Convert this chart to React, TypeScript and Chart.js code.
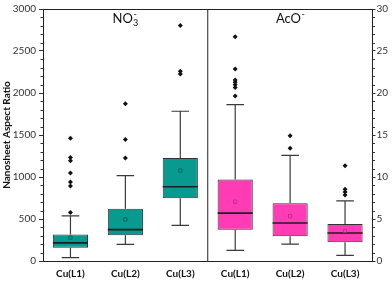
import React, { useEffect, useRef } from 'react';
import { Chart, registerables } from 'chart.js';

Chart.register(...registerables);

const categories = ['Cu(L1)', 'Cu(L2)', 'Cu(L3)', 'Cu(L1)', 'Cu(L2)', 'Cu(L3)'];
const panelTitles = ['NO', 'AcO'];
const q1 = [158, 307, 747, 373, 295, 224];
const q3 = [314, 621, 1225, 970, 688, 440];
const medians = [216, 373, 884, 570, 452, 334];
const means = [279, 495, 1077, 707, 535, 358];
const whiskerLow = [40, 197, 424, 126, 200, 67];
const whiskerHigh = [538, 1017, 1783, 1861, 1257, 715];
const outliersL1 = [1461, 1233, 1194, 1048, 939, 892, 577];
const outliersL2 = [1873, 1445, 1225];
const outliersL3 = [2803, 2258, 2226];
const outliersA1 = [2670, 2285, 2156, 2128, 2097, 2066, 1963];
const outliersA2 = [1492, 1343];
const outliersA3 = [1135, 853, 821, 786];
const leftTicks = [0, 3000, 500];
const rightTicks = [0, 30, 5];

const TEAL = '#08998f';
const PINK = '#ff3cb6';
const FONT = 'Lato, "Open Sans", sans-serif';

export default function App() {
  const ref = useRef<HTMLCanvasElement>(null);

  useEffect(() => {
    if (!ref.current) return;
    const keys = categories.map((c, i) => `${c}#${i}`);
    const outlierLists = [outliersL1, outliersL2, outliersL3, outliersA1, outliersA2, outliersA3];
    const outlierData: { x: string; y: number }[] = [];
    outlierLists.forEach((list, i) => list.forEach((v) => outlierData.push({ x: keys[i], y: v })));
    const fills = categories.map((_, i) => (i < 3 ? TEAL : PINK));
    const meanColors = categories.map((_, i) => (i < 3 ? '#0b5f5a' : '#a8327f'));

    const extras = {
      id: 'boxExtras',
      afterDatasetDraw(chart: any, args: any) {
        if (args.index !== 0) return;
        const { ctx, scales } = chart;
        const x = scales.x;
        const y = scales.y;
        const meta = chart.getDatasetMeta(0);
        ctx.save();
        categories.forEach((_, i) => {
          const cx = x.getPixelForValue(i);
          const bw = meta.data[i].width;
          const capW = bw / 2;
          ctx.strokeStyle = '#3a3a3a';
          ctx.lineWidth = 1.2;
          ctx.beginPath();
          ctx.moveTo(cx, y.getPixelForValue(q3[i]));
          ctx.lineTo(cx, y.getPixelForValue(whiskerHigh[i]));
          ctx.moveTo(cx - capW / 2, y.getPixelForValue(whiskerHigh[i]));
          ctx.lineTo(cx + capW / 2, y.getPixelForValue(whiskerHigh[i]));
          ctx.moveTo(cx, y.getPixelForValue(q1[i]));
          ctx.lineTo(cx, y.getPixelForValue(whiskerLow[i]));
          ctx.moveTo(cx - capW / 2, y.getPixelForValue(whiskerLow[i]));
          ctx.lineTo(cx + capW / 2, y.getPixelForValue(whiskerLow[i]));
          ctx.stroke();
          ctx.strokeStyle = '#1e1e1e';
          ctx.lineWidth = 1.6;
          ctx.beginPath();
          const my = y.getPixelForValue(medians[i]);
          ctx.moveTo(cx - bw / 2, my);
          ctx.lineTo(cx + bw / 2, my);
          ctx.stroke();
        });
        ctx.restore();
      },
      afterDraw(chart: any) {
        const { ctx, chartArea, scales } = chart;
        const x = scales.x;
        const y = scales.y;
        const y2 = scales.y2;
        ctx.save();
        ctx.strokeStyle = '#222';
        ctx.lineWidth = 1;
        ctx.beginPath();
        ctx.moveTo(chartArea.left, chartArea.top + 0.5);
        ctx.lineTo(chartArea.right, chartArea.top + 0.5);
        const divX = (x.getPixelForValue(2) + x.getPixelForValue(3)) / 2;
        ctx.moveTo(divX, chartArea.top);
        ctx.lineTo(divX, chartArea.bottom);
        ctx.stroke();
        ctx.strokeStyle = '#333';
        ctx.beginPath();
        for (let v = leftTicks[0]; v <= leftTicks[1]; v += leftTicks[2] / 5) {
          if (v % leftTicks[2] === 0) continue;
          const py = Math.round(y.getPixelForValue(v)) + 0.5;
          ctx.moveTo(chartArea.left, py);
          ctx.lineTo(chartArea.left - 2.5, py);
        }
        for (let v = rightTicks[0]; v <= rightTicks[1]; v += rightTicks[2] / 5) {
          if (Math.round(v * 10) % (rightTicks[2] * 10) === 0) continue;
          const py = Math.round(y2.getPixelForValue(v)) + 0.5;
          ctx.moveTo(chartArea.right, py);
          ctx.lineTo(chartArea.right + 2.5, py);
        }
        ctx.stroke();
        ctx.fillStyle = '#111';
        ctx.textBaseline = 'alphabetic';
        const drawTitle = (cx: number, base: string, sub: string, sup: string) => {
          ctx.font = `13px ${FONT}`;
          const wBase = ctx.measureText(base).width;
          ctx.font = `9px ${FONT}`;
          const wSub = sub ? ctx.measureText(sub).width : 0;
          const wSup = ctx.measureText(sup).width;
          const total = wBase + Math.max(wSub, wSup);
          let px = cx - total / 2;
          const by = chartArea.top + 14;
          ctx.font = `13px ${FONT}`;
          ctx.fillText(base, px, by);
          px += wBase;
          ctx.font = `9px ${FONT}`;
          if (sub) ctx.fillText(sub, px, by + 3);
          ctx.fillText(sup, px + 0.5, by - 6);
        };
        drawTitle(x.getPixelForValue(1), panelTitles[0], '3', '-');
        drawTitle(x.getPixelForValue(4), panelTitles[1], '', '-');
        ctx.restore();
      },
    };

    const chart = new Chart(ref.current, {
      type: 'bar',
      data: {
        labels: keys,
        datasets: [
          {
            type: 'bar',
            data: keys.map((_, i) => [q1[i], q3[i]]) as any,
            backgroundColor: fills,
            borderColor: '#333',
            borderWidth: 1,
            borderSkipped: false,
            barPercentage: 0.64,
            categoryPercentage: 1,
            order: 3,
          } as any,
          {
            type: 'scatter',
            data: outlierData as any,
            pointStyle: 'rectRot',
            pointRadius: 2.5,
            backgroundColor: '#111',
            borderColor: '#111',
            borderWidth: 0,
            order: 1,
          } as any,
          {
            type: 'scatter',
            data: means.map((v, i) => ({ x: keys[i], y: v })) as any,
            pointStyle: 'rect',
            pointRadius: 2.3,
            backgroundColor: 'rgba(0,0,0,0)',
            borderColor: meanColors,
            borderWidth: 0.8,
            order: 2,
          } as any,
        ],
      },
      options: {
        responsive: false,
        animation: false,
        events: [],
        layout: { padding: { top: 6, left: 0, right: 0, bottom: 0 } },
        plugins: { legend: { display: false }, tooltip: { enabled: false } },
        scales: {
          x: {
            type: 'category',
            offset: true,
            grid: { display: false, drawTicks: false },
            border: { display: true, color: '#222', width: 1 },
            ticks: {
              font: { family: FONT, size: 10, weight: 'bold' },
              color: '#111',
              padding: 7,
              maxRotation: 0,
              autoSkip: false,
              callback: (_v: any, i: number) => categories[i],
            },
            afterFit: (s: any) => {
              s.height = 20;
            },
          },
          y: {
            type: 'linear',
            position: 'left',
            min: leftTicks[0],
            max: leftTicks[1],
            grid: { drawOnChartArea: false, drawTicks: true, tickLength: 4, tickColor: '#333' },
            border: { display: true, color: '#222', width: 1 },
            ticks: {
              stepSize: leftTicks[2],
              font: { family: FONT, size: 10 },
              color: '#333',
              padding: 3,
              callback: (v: any) => String(v),
            },
            title: {
              display: true,
              text: 'Nanosheet Aspect Ratio',
              font: { family: FONT, size: 10, weight: 'bold' },
              color: '#111',
              padding: { top: 1, bottom: 0 },
            },
            afterFit: (s: any) => {
              s.width = 43;
            },
          },
          y2: {
            type: 'linear',
            position: 'right',
            min: rightTicks[0],
            max: rightTicks[1],
            grid: { drawOnChartArea: false, drawTicks: true, tickLength: 3, tickColor: '#333' },
            border: { display: true, color: '#222', width: 1 },
            ticks: {
              stepSize: rightTicks[2],
              font: { family: FONT, size: 10 },
              color: '#333',
              padding: 1,
              callback: (v: any) => String(v),
            },
            afterFit: (s: any) => {
              s.width = 19.5;
            },
          },
        },
      } as any,
      plugins: [extras],
    });
    return () => chart.destroy();
  }, []);

  return (
    <div style={{ position: 'absolute', left: 0, top: 0, width: 392, height: 281, background: '#fff' }}>
      <canvas ref={ref} width={392} height={281} />
    </div>
  );
}
